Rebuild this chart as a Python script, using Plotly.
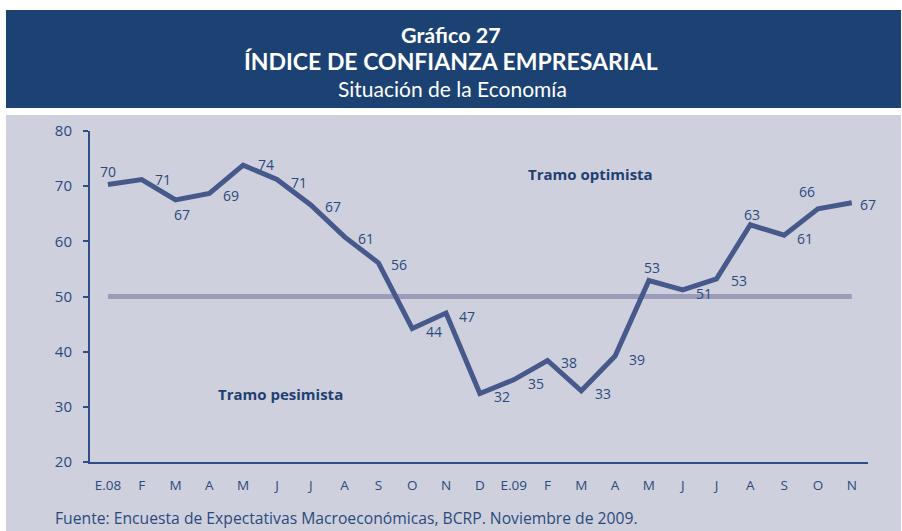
import plotly.graph_objects as go

months = ["E.08", "F", "M", "A", "M", "J", "J", "A", "S", "O", "N", "D",
          "E.09", "F", "M", "A", "M", "J", "J", "A", "S", "O", "N"]
values = [70.3, 71.2, 67.5, 68.7, 73.8, 71.2, 66.6, 60.8, 56.1, 44.2, 47.0, 32.4,
          34.9, 38.4, 32.9, 39.2, 52.9, 51.2, 53.2, 63.0, 61.1, 65.9, 67.0]
labels = ["70", "71", "67", "69", "74", "71", "67", "61", "56", "44", "47", "32",
          "35", "38", "33", "39", "53", "51", "53", "63", "61", "66", "67"]
threshold = 50
y_ticks = [20, 30, 40, 50, 60, 70, 80]

# label offsets in pixels (dx, dy) relative to each point (screen down positive)
label_dx = [0, 21, 6, 22, 23, 22, 22, 21, 21, 22, 21, 22, 22, 22, 22, 22, 3, 21, 22, 2, 21, -11, 16]
label_dy = [-13, 0, 15, 2, -1, 3, 2, 2, 2, 3, 3, 3, 4, 2, 3, 3, -13, 4, 2, -10, 3, -17, 2]

x_idx = list(range(len(months)))

DARK = "#1b4273"
PANEL = "#cfd0de"
LINE = "#46598b"
REF = "#9a9cba"
TXT = "#2a4a7c"
FONT = "Open Sans"
HFONT = "Lato"

W, H = 902, 531
L, R, T, B = 90, 902 - 868, 131, 531 - 462
pw, ph = W - L - R, H - T - B


def px(x):
    return (x - L) / pw


def py(y):
    return (H - B - y) / ph


def label(x, y, text, size, color, family, xanchor="center"):
    fig.add_annotation(xref="paper", yref="paper", x=px(x), y=py(y), text=text,
                       xanchor=xanchor, yanchor="middle", showarrow=False,
                       font=dict(family=family, size=size, color=color))


fig = go.Figure()

fig.add_trace(go.Scatter(x=[x_idx[0], x_idx[-1]], y=[threshold, threshold], mode="lines",
                         line=dict(color=REF, width=5), hoverinfo="skip", showlegend=False))
fig.add_trace(go.Scatter(x=x_idx, y=values, mode="lines",
                         line=dict(color=LINE, width=5), showlegend=False))

for i, (v, t) in enumerate(zip(values, labels)):
    fig.add_annotation(x=i, y=v, text=t, showarrow=False, xshift=label_dx[i], yshift=-label_dy[i],
                       xanchor="center", yanchor="middle",
                       font=dict(family=FONT, size=14, color=TXT))

label(590, 174, "<b>Tramo optimista</b>", 15, "#1f3f72", FONT)
label(280, 394, "<b>Tramo pesimista</b>", 15, "#1f3f72", FONT)

fig.add_shape(type="rect", xref="paper", yref="paper", layer="below",
              x0=px(6), x1=px(901), y0=py(108), y1=py(10), fillcolor=DARK, line_width=0)
fig.add_shape(type="rect", xref="paper", yref="paper", layer="below",
              x0=px(6), x1=px(901), y0=py(545), y1=py(115), fillcolor=PANEL, line_width=0)

label(451, 35, "<b>Gráfico 27</b>", 21.5, "white", HFONT)
label(451, 61, "<b>ÍNDICE DE CONFIANZA EMPRESARIAL</b>", 23, "white", HFONT)
label(452, 88, "Situación de la Economía", 21, "white", HFONT)
label(53, 518, "Fuente: Encuesta de Expectativas Macroeconómicas, BCRP. Noviembre de 2009.",
      15.7, TXT, FONT, xanchor="left")

fig.update_layout(
    width=W, height=H,
    margin=dict(l=L, r=R, t=T, b=B, pad=0),
    paper_bgcolor="white", plot_bgcolor="rgba(0,0,0,0)",
    showlegend=False,
    xaxis=dict(range=[-0.53, 22.48], tickmode="array", tickvals=x_idx, ticktext=months,
               showgrid=False, zeroline=False, showline=True, linecolor="#2e4f86", linewidth=2,
               ticks="", tickfont=dict(family=FONT, size=13.5, color=TXT), ticklabelstandoff=10),
    yaxis=dict(range=[20, 80], tickmode="array", tickvals=y_ticks, showgrid=False, zeroline=False,
               showline=True, linecolor="#2e4f86", linewidth=2, ticks="outside", ticklen=5,
               tickcolor="#2e4f86", tickwidth=1.5,
               tickfont=dict(family=FONT, size=15, color=TXT), ticklabelstandoff=8),
)

fig.write_html("out.html", config={"displayModeBar": False},
               post_script="document.body.style.margin='0';document.body.style.overflow='hidden';")
